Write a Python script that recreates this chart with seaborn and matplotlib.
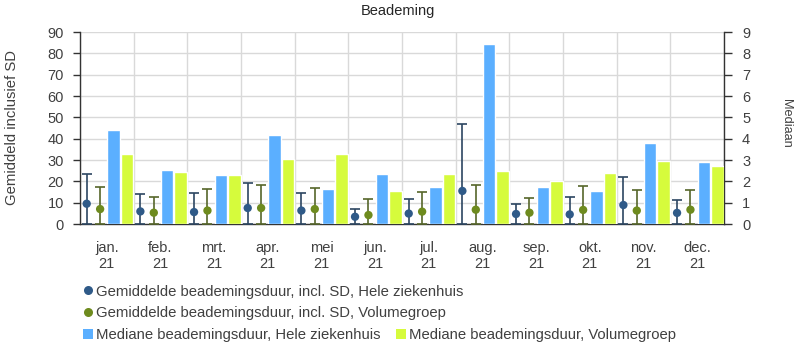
import matplotlib
matplotlib.use("Agg")
import matplotlib.pyplot as plt
from matplotlib.lines import Line2D
from matplotlib.patches import Patch
import seaborn as sns
import pandas as pd
import numpy as np

months = ["jan.\n21", "feb.\n21", "mrt.\n21", "apr.\n21", "mei\n21", "jun.\n21",
          "jul.\n21", "aug.\n21", "sep.\n21", "okt.\n21", "nov.\n21", "dec.\n21"]

mean_hele = [9.5, 5.9, 5.6, 7.5, 6.3, 3.4, 4.9, 15.5, 4.7, 4.5, 8.9, 5.2]
sd_hele = [14.0, 8.3, 9.0, 11.9, 8.4, 3.6, 6.8, 31.4, 4.8, 8.3, 12.9, 5.9]
mean_vol = [7.0, 5.3, 6.3, 7.5, 7.0, 4.2, 5.8, 6.7, 5.3, 6.6, 6.3, 6.7]
sd_vol = [10.5, 7.5, 10.1, 10.8, 10.1, 7.5, 9.4, 11.6, 6.9, 11.1, 9.5, 9.1]
med_hele = [4.41, 2.54, 2.30, 4.15, 1.63, 2.36, 1.74, 8.43, 1.75, 1.53, 3.79, 2.91]
med_vol = [3.30, 2.44, 2.30, 3.05, 3.30, 1.55, 2.36, 2.47, 2.00, 2.38, 2.96, 2.71]

lbl_mh = "Gemiddelde beademingsduur, incl. SD, Hele ziekenhuis"
lbl_mv = "Gemiddelde beademingsduur, incl. SD, Volumegroep"
lbl_dh = "Mediane beademingsduur, Hele ziekenhuis"
lbl_dv = "Mediane beademingsduur, Volumegroep"

c_dot_h = "#2F5A88"
c_dot_v = "#6E8B1E"
c_err_h = "#2C4661"
c_err_v = "#56662A"
c_bar_h = "#5BAFFF"
c_bar_v = "#D6FB3C"
txt = "#404040"
fs = 10.5

sns.set_theme(style="white")
plt.rcParams["font.family"] = ["Liberation Sans", "DejaVu Sans"]
plt.rcParams["font.size"] = fs

fig = plt.figure(figsize=(8.01, 3.59), dpi=100)
ax = fig.add_axes([80 / 801, 1 - 224 / 359, 644 / 801, 192 / 359])
ax2 = ax.twinx()

n = len(months)
idx = np.arange(n)

# bars (medians) on right axis via seaborn with 4 dodge slots
df_bar = pd.DataFrame({
    "month": months * 2,
    "value": med_hele + med_vol,
    "series": [lbl_dh] * n + [lbl_dv] * n,
})
hue_order = ["_s1", "_s2", lbl_dh, lbl_dv]
pal = {"_s1": "white", "_s2": "white", lbl_dh: c_bar_h, lbl_dv: c_bar_v}
sns.barplot(data=df_bar, x="month", y="value", hue="series", hue_order=hue_order,
            order=months, palette=pal, width=1.0, gap=0.07, dodge=True,
            saturation=1, legend=False, ax=ax2, zorder=3)

# dots with SD on left axis
x_h = idx - 0.375
x_v = idx - 0.125
ax.errorbar(x_h, mean_hele, yerr=[mean_hele, sd_hele], fmt="none",
            ecolor=c_err_h, elinewidth=1.2, capsize=3.6, capthick=1.2, zorder=3)
ax.errorbar(x_v, mean_vol, yerr=[mean_vol, sd_vol], fmt="none",
            ecolor=c_err_v, elinewidth=1.2, capsize=3.6, capthick=1.2, zorder=3)
df_dot = pd.DataFrame({
    "x": np.concatenate([x_h, x_v]),
    "y": mean_hele + mean_vol,
    "series": [lbl_mh] * n + [lbl_mv] * n,
})
sns.scatterplot(data=df_dot, x="x", y="y", hue="series",
                palette={lbl_mh: c_dot_h, lbl_mv: c_dot_v}, s=36,
                edgecolor="none", legend=False, ax=ax, zorder=4)

ax.set_ylim(0, 90)
ax2.set_ylim(0, 9)
ax.set_xlim(-0.5, n - 0.5)
ax.set_yticks(np.arange(0, 91, 10))
ax2.set_yticks(np.arange(0, 10, 1))

ax.set_xticks(idx)
ax.set_xticklabels(months, linespacing=1.25)
ax.set_xticks(np.arange(-0.5, n, 1), minor=True)
ax.tick_params(axis="x", which="major", length=0, pad=12, labelsize=fs, labelcolor=txt)
ax.tick_params(axis="x", which="minor", length=14, width=1, color="#333333", direction="out")
ax.tick_params(axis="y", length=5, width=1, color="#333333", labelsize=fs,
               labelcolor=txt, pad=6.5, direction="out", left=True)
ax2.tick_params(axis="y", length=5.5, width=1, color="#333333", labelsize=fs,
                labelcolor=txt, pad=7.5, direction="out", right=True)

ax.grid(True, axis="y", which="major", color="#d9d9d9", linewidth=1)
ax.grid(True, axis="x", which="minor", color="#d9d9d9", linewidth=1)
ax.grid(False, axis="x", which="major")
ax2.grid(False)
ax.set_axisbelow(True)

for a in (ax, ax2):
    for s in a.spines.values():
        s.set_visible(False)
ax.spines["left"].set_visible(True)
ax.spines["bottom"].set_visible(True)
ax2.spines["right"].set_visible(True)
for s in (ax.spines["left"], ax.spines["bottom"], ax2.spines["right"]):
    s.set_color("#333333")
    s.set_linewidth(1)

ax.set_xlabel("")
ax2.set_xlabel("")
ax.set_ylabel("")
ax2.set_ylabel("")
fig.text(12.5 / 801, 1 - 127.5 / 359, "Gemiddeld inclusief SD", rotation=90,
         ha="center", va="center", fontsize=10.7, color=txt)
fig.text(785.5 / 801, 1 - 123 / 359, "Mediaan", rotation=-90,
         ha="center", va="center", fontsize=9.2, color=txt)
fig.text(398 / 801, 1 - 15.5 / 359, "Beademing", ha="center", va="baseline",
         fontsize=fs, color="#262626")

# legend
lfs = 10.7
h1 = [Line2D([], [], marker="o", linestyle="none", markersize=6.5,
             markerfacecolor=c_dot_h, markeredgecolor="none", label=lbl_mh),
      Line2D([], [], marker="o", linestyle="none", markersize=6.5,
             markerfacecolor=c_dot_v, markeredgecolor="none", label=lbl_mv)]
fig.legend(handles=h1, loc="center left", bbox_to_anchor=(83 / 801, 1 - 302.5 / 359),
           frameon=False, fontsize=lfs, handlelength=0.7, handletextpad=0.2,
           labelspacing=0.53, borderaxespad=0, borderpad=0, labelcolor=txt)
h2 = [Patch(facecolor=c_bar_h, edgecolor="none", label=lbl_dh),
      Patch(facecolor=c_bar_v, edgecolor="none", label=lbl_dv)]
fig.legend(handles=h2, loc="center left", bbox_to_anchor=(83 / 801, 1 - 335 / 359),
           frameon=False, fontsize=lfs, ncol=2, handlelength=0.7, handleheight=0.7,
           handletextpad=0.2, columnspacing=1.0, borderaxespad=0, borderpad=0,
           labelcolor=txt)

fig.savefig("out.png", dpi=100)
